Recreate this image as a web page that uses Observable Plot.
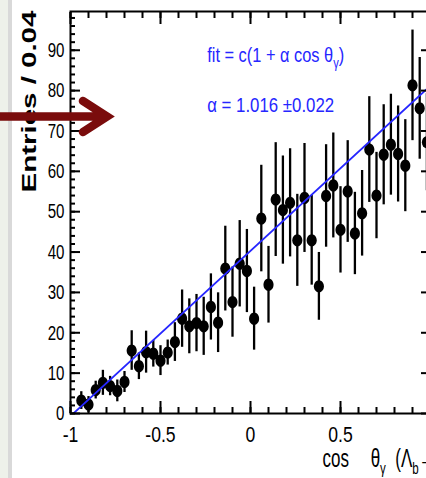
<!DOCTYPE html>
<html><head><meta charset="utf-8">
<script src="https://cdn.jsdelivr.net/npm/d3@7"></script>
<script src="https://cdn.jsdelivr.net/npm/@observablehq/plot@0.6"></script>
<style>
html,body{margin:0;padding:0;}
body{width:426px;height:478px;overflow:hidden;position:relative;
 background:linear-gradient(to right,#eef1ea 0px,#eef1ea 8px,#d9d9d9 8px,#d9d9d9 12px,#ffffff 12px);
 font-family:"Liberation Sans",Arial,sans-serif;}
#chart{position:absolute;left:0;top:0;width:470px;}
#chart svg{max-width:none !important;}
#arrow{position:absolute;left:0;top:0;pointer-events:none;}
</style></head><body>
<div id="chart"></div>
<svg id="arrow" width="130" height="140"><path d="M0 116.5 H106 M83 101 L107 116.5 L83 132" stroke="#7a0c0c" stroke-width="8.5" fill="none" stroke-linecap="round" stroke-linejoin="miter"/></svg>
<script>
// ---- data ----
const binCenters = [-0.94,-0.90,-0.86,-0.82,-0.78,-0.74,-0.70,-0.66,-0.62,-0.58,-0.54,-0.50,-0.46,-0.42,-0.38,-0.34,-0.30,-0.26,-0.22,-0.18,-0.14,-0.10,-0.06,-0.02,0.02,0.06,0.10,0.14,0.18,0.22,0.26,0.30,0.34,0.38,0.42,0.46,0.50,0.54,0.58,0.62,0.66,0.70,0.74,0.78,0.82,0.86,0.90,0.94,0.98];
const entries = [3.2,2.2,5.8,7.6,6.8,5.6,7.8,15.6,11.7,15.2,14.8,13.1,15.1,17.7,23.5,21.6,22.4,21.6,26.4,22.5,35.9,27.6,37.1,35.3,23.5,48.3,31.9,53.0,50.4,52.2,42.9,53.4,42.9,31.5,53.9,56.5,45.5,55.0,44.6,49.6,65.4,54.0,64.1,66.6,64.3,61.4,81.3,75.6,67.2];
const entryErrors = [2.2,2.0,2.2,3.1,2.4,2.7,2.6,4.9,3.3,5.2,3.3,3.7,3.1,4.8,7.1,6.8,7.1,7.2,8.2,7.4,10.5,8.7,10.7,10.3,7.8,13.2,9.5,14.1,13.4,13.4,11.4,13.5,11.1,8.4,12.7,13.0,10.7,12.6,10.2,10.6,13.1,10.7,12.4,12.5,11.9,11.4,13.7,12.6,12.0];
const fitC = 40.3, fitAlpha = 1.016;
const fitRange = [-1, 1];
const yMajorTicks = [0,10,20,30,40,50,60,70,80,90];
const yMinorTicks = d3.range(0, 100, 2);
const xMajorTicks = [-1,-0.5,0,0.5];
const xMajorLabels = ["-1","-0.5","0","0.5"];
const xMinorTicks = d3.range(-10, 11).map(d => d / 10);
const yTitle = "Entries / 0.04";
const xTitle = "cos\u2003\u00a0\u03b8_{\u03b3}\u00a0\u00a0(\u039b_{b}\u2192\u039b\u03b3)";
const fitFormula = "fit = c(1 + \u03b1 cos \u03b8_{\u03b3})";
const fitResult = "\u03b1 = 1.016 \u00b10.022";

const data = binCenters.map((x, i) => ({x, y: entries[i], e: entryErrors[i]}));

const ellipse = {
  draw(ctx, size) {
    const r = Math.sqrt(size / Math.PI), rx = r * 0.9, ry = r * 1.1, kx = rx * 0.5523, ky = ry * 0.5523;
    ctx.moveTo(rx, 0);
    ctx.bezierCurveTo(rx, ky, kx, ry, 0, ry);
    ctx.bezierCurveTo(-kx, ry, -rx, ky, -rx, 0);
    ctx.bezierCurveTo(-rx, -ky, -kx, -ry, 0, -ry);
    ctx.bezierCurveTo(kx, -ry, rx, -ky, rx, 0);
    ctx.closePath();
  }
};
const blue = "#2626ff";
const tickCommon = {strokeWidth: 2, stroke: "black", label: null};

const chart = Plot.plot({
  width: 470, height: 478,
  marginLeft: 70, marginRight: 40, marginTop: 11, marginBottom: 65,
  style: {background: "transparent", fontFamily: "'Liberation Sans', Arial, sans-serif", color: "black", overflow: "visible"},
  x: {domain: [-1, 1]},
  y: {domain: [0, 99.6]},
  marks: [
    Plot.ruleX(data, {x: "x", y1: d => d.y - d.e, y2: d => d.y + d.e, stroke: "black", strokeWidth: 2.3}),
    Plot.dot(data, {x: "x", y: "y", r: 5.6, fill: "black", stroke: "none", symbol: ellipse}),
    Plot.line(fitRange, {x: d => d, y: d => fitC * (1 + fitAlpha * d), stroke: blue, strokeWidth: 1.8, clip: true}),
    Plot.frame({stroke: "black", strokeWidth: 2}),
    Plot.axisY(yMajorTicks, {...tickCommon, anchor: "left", tickSize: -10, tickPadding: 16, fontSize: 21, tickFormat: d => String(d)}),
    Plot.axisY(yMinorTicks, {...tickCommon, anchor: "left", tickSize: -5, tickFormat: () => ""}),
    Plot.axisY(yMajorTicks, {...tickCommon, anchor: "right", tickSize: -10, tickFormat: () => ""}),
    Plot.axisY(yMinorTicks, {...tickCommon, anchor: "right", tickSize: -5, tickFormat: () => ""}),
    Plot.axisX(xMajorTicks, {...tickCommon, anchor: "bottom", tickSize: -12, tickPadding: 25, fontSize: 22, tickFormat: (d, i) => xMajorLabels[xMajorTicks.indexOf(d)]}),
    Plot.axisX(xMinorTicks, {...tickCommon, anchor: "bottom", tickSize: -6, tickFormat: () => ""}),
    Plot.axisX(xMajorTicks, {...tickCommon, anchor: "top", tickSize: -12, tickFormat: () => ""}),
    Plot.axisX(xMinorTicks, {...tickCommon, anchor: "top", tickSize: -6, tickFormat: () => ""}),
    Plot.text([yTitle], {text: d => d, frameAnchor: "top-left", dx: -35, dy: 181, rotate: -90, textAnchor: "start", lineAnchor: "bottom", fontSize: 20, fontWeight: "bold", fill: "black"}),
    Plot.text([xTitle], {text: d => d, frameAnchor: "bottom-left", dx: 252, dy: 53, textAnchor: "start", lineAnchor: "bottom", fontSize: 25, fill: "black"}),
    Plot.text([fitFormula], {text: d => d, x: -0.2406, y: 87.1, textAnchor: "start", lineAnchor: "bottom", fontSize: 21, fill: blue}),
    Plot.text([fitResult], {text: d => d, x: -0.2406, y: 74.65, textAnchor: "start", lineAnchor: "bottom", fontSize: 21, fill: blue})
  ]
});
document.getElementById("chart").append(chart);

function richify(el) {
  const s = el.textContent;
  if (!s.includes("_{")) return;
  const fs = parseFloat(getComputedStyle(el).fontSize);
  el.textContent = "";
  const re = /_\{([^}]*)\}/g;
  let last = 0, m, shifted = false;
  const add = (txt, sub) => {
    if (!txt) return;
    const t = document.createElementNS("http://www.w3.org/2000/svg", "tspan");
    t.textContent = txt;
    if (sub) { t.setAttribute("font-size", fs * 0.68); t.setAttribute("dy", fs * 0.28); shifted = true; }
    else if (shifted) { t.setAttribute("dy", -fs * 0.28); shifted = false; }
    el.appendChild(t);
  };
  while ((m = re.exec(s))) { add(s.slice(last, m.index), false); add(m[1], true); last = re.lastIndex; }
  add(s.slice(last), false);
}
function squeeze(el, sx) {
  el.setAttribute("transform", (el.getAttribute("transform") || "") + ` scale(${sx},1)`);
}
const texts = Array.from(chart.querySelectorAll("text"));
texts.forEach(richify);
const targets = new Map([[yTitle, 182], [fitFormula.replace(/_\{([^}]*)\}/g, "$1"), 137], [fitResult, 127]]);
texts.forEach(el => {
  const s = el.textContent;
  if (targets.has(s)) squeeze(el, targets.get(s) / el.getComputedTextLength());
  else if (s === xTitle.replace(/_\{([^}]*)\}/g, "$1")) squeeze(el, 0.68);
});
d3.select(chart).selectAll('g[aria-label="y-axis tick label"] text').each(function() { squeeze(this, 0.72); });
d3.select(chart).selectAll('g[aria-label="x-axis tick label"] text').each(function() { squeeze(this, 0.8); });
</script></body></html>
